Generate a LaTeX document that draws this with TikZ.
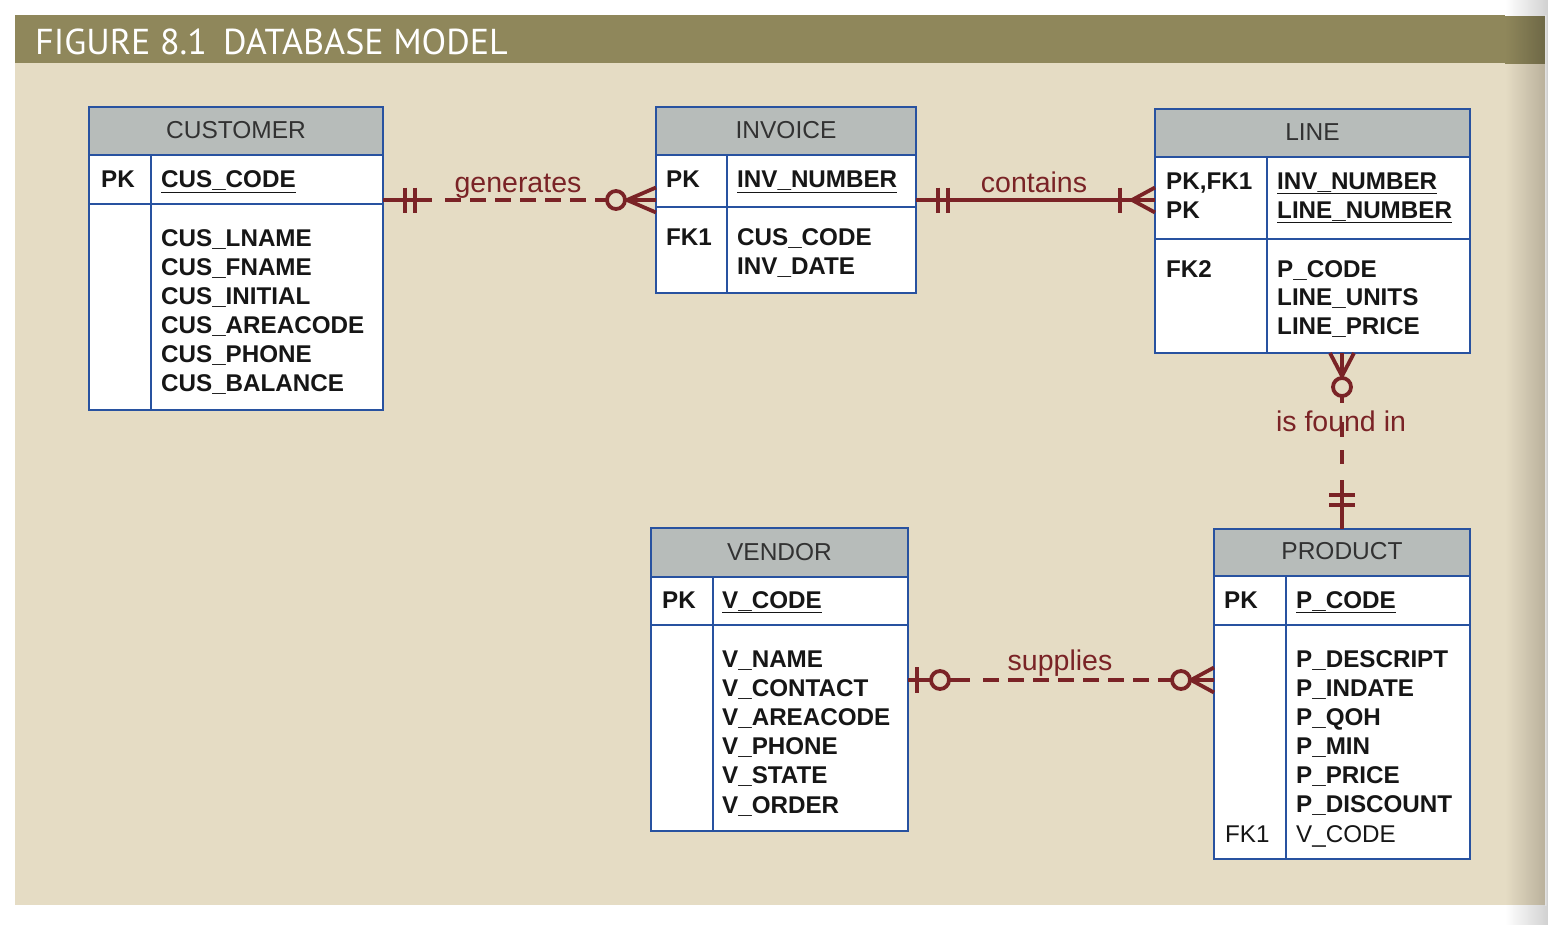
\documentclass[tikz,border=0pt]{standalone}
\usepackage{fontspec}
\setmainfont{Liberation Sans}
\newfontfamily\titlefont{PT Sans}
\usetikzlibrary{calc}
\definecolor{olivebar}{RGB}{143,135,91}
\definecolor{olivedark}{RGB}{110,104,70}
\definecolor{beige}{RGB}{229,220,196}
\definecolor{beigedark}{RGB}{186,177,156}
\definecolor{tblblue}{RGB}{40,82,160}
\definecolor{hdrgray}{RGB}{183,188,186}
\definecolor{relred}{RGB}{122,35,38}
\definecolor{fldtext}{RGB}{22,22,22}
\definecolor{hdrtext}{RGB}{50,50,50}
\newcommand\erdtab[9]{%
  \node[fill=white, anchor=north west, inner sep=0pt, outer sep=0pt,
        minimum width={(#4-#2)*1pt}, minimum height={(#5-#3)*1pt}] (#1) at (#2,#3) {};
  \fill[hdrgray] (#2,#3) rectangle (#4,#6);
  \draw[tblline] (#2,#6) -- (#4,#6) (#2,#7) -- (#4,#7) (#8,#6) -- (#8,#5);
  \draw[tblline] (#1.north west) rectangle (#1.south east);
  \node[hdrtxt] (#1-title) at ({(#2+#4)/2},{#6-17}) {#9};
}
\begin{document}
\begin{tikzpicture}[x=1pt,y=-1pt,
  tblline/.style={draw=tblblue, line width=2.8pt},
  hdrtxt/.style={anchor=base, inner sep=0pt, text=hdrtext, font=\fontsize{24.5}{28}\selectfont},
  fld/.style={anchor=base west, inner sep=0pt, text=fldtext, font=\bfseries\fontsize{24.2}{28}\selectfont},
  fldr/.style={anchor=base west, inner sep=0pt, text=fldtext, font=\fontsize{24.2}{28}\selectfont},
  rel/.style={draw=relred, line width=3.8pt},
  reldash/.style={rel, dash pattern=on 16pt off 9pt},
  lbl/.style={anchor=base, inner sep=0pt, text=relred, font=\fontsize{28.5}{32}\selectfont}]
\useasboundingbox (0,0) rectangle (1548,924);
\fill[white] (0,0) rectangle (1548,924);
\fill[beige] (15,63) rectangle (1545,905);
\fill[olivebar] (15,15) rectangle (1545,63);
% right edge shadow
\shade[left color=beige, right color=beigedark] (1505,63) rectangle (1545,905);
\shade[left color=olivebar, right color=olivedark] (1505,15) rectangle (1545,63);
\shade[left color=white, right color=black!18] (1505,0) rectangle (1548,15);
\shade[left color=white, right color=black!18] (1505,905) rectangle (1548,924);
\shade[left color=black!12, right color=black!22] (1545,15) rectangle (1548,905);
\node[anchor=base west, inner sep=0pt, text=white, font=\titlefont\fontsize{36}{42}\selectfont] (title) at (35,54) {FIGURE 8.1\hspace{0.45em}DATABASE MODEL};

% tables
\erdtab{cust}{89}{107}{383}{410}{155}{204}{151}{CUSTOMER}
\erdtab{inv}{656}{107}{916}{293}{155}{207}{727}{INVOICE}
\erdtab{line}{1155}{109}{1470}{353}{157}{239}{1267}{LINE}
\erdtab{vend}{651}{528}{908}{831}{577}{625}{713}{VENDOR}
\erdtab{prod}{1214}{529}{1470}{859}{576}{625}{1286}{PRODUCT}

% CUSTOMER fields
\node[fld] (cuk) at (101,187.5) {PK};
\node[fld] (cu0) at (161,187.5) {\underline{CUS\_CODE}};
\node[fld] (cu1) at (161,246.5) {CUS\_LNAME};
\node[fld] (cu2) at (161,275.4) {CUS\_FNAME};
\node[fld] (cu3) at (161,304.3) {CUS\_INITIAL};
\node[fld] (cu4) at (161,333.2) {CUS\_AREACODE};
\node[fld] (cu5) at (161,362.1) {CUS\_PHONE};
\node[fld] (cu6) at (161,391) {CUS\_BALANCE};

% INVOICE fields
\node[fld] (ink) at (666,187.5) {PK};
\node[fld] (in0) at (737,187.5) {\underline{INV\_NUMBER}};
\node[fld] (inf) at (666,245.7) {FK1};
\node[fld] (in1) at (737,245.7) {CUS\_CODE};
\node[fld] (in2) at (737,274.5) {INV\_DATE};

% LINE fields
\node[fld] (lik1) at (1166,189) {PK,FK1};
\node[fld] (lik2) at (1166,218) {PK};
\node[fld] (li0) at (1277,189) {\underline{INV\_NUMBER}};
\node[fld] (li1) at (1277,218) {\underline{LINE\_NUMBER}};
\node[fld] (lif) at (1166,277) {FK2};
\node[fld] (li2) at (1277,277) {P\_CODE};
\node[fld] (li3) at (1277,305.5) {LINE\_UNITS};
\node[fld] (li4) at (1277,334) {LINE\_PRICE};

% VENDOR fields
\node[fld] (vek) at (662,608) {PK};
\node[fld] (ve0) at (722,608) {\underline{V\_CODE}};
\node[fld] (ve1) at (722,667) {V\_NAME};
\node[fld] (ve2) at (722,696.2) {V\_CONTACT};
\node[fld] (ve3) at (722,725.4) {V\_AREACODE};
\node[fld] (ve4) at (722,754.6) {V\_PHONE};
\node[fld] (ve5) at (722,783.8) {V\_STATE};
\node[fld] (ve6) at (722,813) {V\_ORDER};

% PRODUCT fields
\node[fld] (prk) at (1224,608) {PK};
\node[fld] (pr0) at (1296,608) {\underline{P\_CODE}};
\node[fld] (pr1) at (1296,667) {P\_DESCRIPT};
\node[fld] (pr2) at (1296,696) {P\_INDATE};
\node[fld] (pr3) at (1296,725) {P\_QOH};
\node[fld] (pr4) at (1296,754) {P\_MIN};
\node[fld] (pr5) at (1296,783) {P\_PRICE};
\node[fld] (pr6) at (1296,812) {P\_DISCOUNT};
\node[fldr] (prf) at (1225,842) {FK1};
\node[fldr] (pr7) at (1296,842) {V\_CODE};

% ---- generates (CUSTOMER -> INVOICE)
\coordinate (gA) at (cust.north east |- 0,200);
\coordinate (gB) at (inv.north west |- 0,200);
\begin{scope}[shift={(gA)}]
  \draw[rel] (0,0) -- (49,0);
  \draw[rel] (22,-12.5) -- (22,12.5) (32,-12.5) -- (32,12.5);
\end{scope}
\draw[reldash] ([xshift=62pt]gA) -- ([xshift=-49pt]gB);
\begin{scope}[shift={(gB)}]
  \draw[rel] (-40,0) circle (9pt);
  \draw[rel] (-30,0) -- (0,0) (-29,0) -- (0,-12.5) (-29,0) -- (0,12.5);
\end{scope}
\node[lbl] (lg) at (518,192) {generates};

% ---- contains (INVOICE -> LINE)
\coordinate (cA) at (inv.north east |- 0,200);
\coordinate (cB) at (line.north west |- 0,200);
\draw[rel] (cA) -- (cB);
\begin{scope}[shift={(cA)}]
  \draw[rel] (22,-12.5) -- (22,12.5) (32,-12.5) -- (32,12.5);
\end{scope}
\begin{scope}[shift={(cB)}]
  \draw[rel] (-35,-12.5) -- (-35,12.5);
  \draw[rel] (-23,0) -- (0,-12.5) (-23,0) -- (0,12.5);
\end{scope}
\node[lbl] (lc) at (1034,192) {contains};

% ---- supplies (VENDOR -> PRODUCT)
\coordinate (sA) at (vend.north east |- 0,680);
\coordinate (sB) at (prod.north west |- 0,680);
\begin{scope}[shift={(sA)}]
  \draw[rel] (0,0) -- (23,0);
  \draw[rel] (9,-13) -- (9,13);
  \draw[rel] (32,0) circle (9pt);
  \draw[rel] (41,0) -- (62,0);
\end{scope}
\draw[reldash] ([xshift=75pt]sA) -- ([xshift=-42pt]sB);
\begin{scope}[shift={(sB)}]
  \draw[rel] (-33,0) circle (9pt);
  \draw[rel] (-24,0) -- (0,0) (-23,0) -- (0,-12.5) (-23,0) -- (0,12.5);
\end{scope}
\node[lbl] (ls) at (1060,670) {supplies};

% ---- is found in (LINE -> PRODUCT)
\coordinate (fA) at (line.south west -| 1342,0);
\coordinate (fB) at (prod.north west -| 1342,0);
\begin{scope}[shift={(fA)}]
  \draw[rel] (0,0) -- (0,24) (-12,0) -- (0,23) (12,0) -- (0,23);
  \draw[rel] (0,34) circle (9pt);
  \draw[rel] (0,43) -- (0,50);
  \draw[rel] (0,69) -- (0,84);
  \draw[rel] (0,97) -- (0,111);
\end{scope}
\begin{scope}[shift={(fB)}]
  \draw[rel] (0,-49) -- (0,0);
  \draw[rel] (-13,-34) -- (13,-34) (-13,-24) -- (13,-24);
\end{scope}
\node[lbl] (lf) at (1341,431) {is found in};
\end{tikzpicture}
\end{document}
